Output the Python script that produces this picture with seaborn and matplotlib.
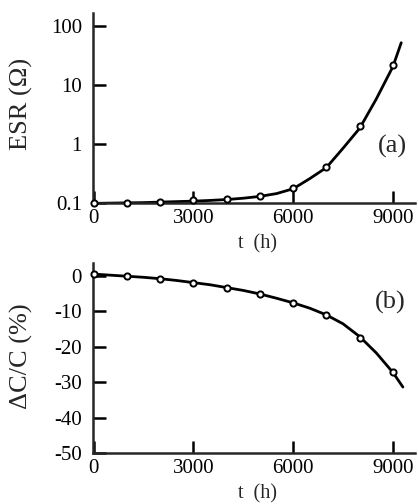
import matplotlib
matplotlib.use("Agg")
import matplotlib.pyplot as plt
import seaborn as sns
import pandas as pd

# ---- data ----
t_points = [0, 1000, 2000, 3000, 4000, 5000, 6000, 7000, 8000, 9000]
esr_points = [0.100, 0.100, 0.104, 0.113, 0.116, 0.130, 0.180, 0.41, 2.0, 21.4]
dcc_points = [0.3, -0.2, -0.86, -2.0, -3.4, -5.2, -7.7, -11.0, -17.5, -27.2]

# fitted curves as drawn in the reference
t_curve = [0, 500, 1000, 1500, 2000, 2500, 3000, 3500, 4000, 4500, 5000,
           5500, 6000, 6500, 7000, 7500, 8000, 8500, 9000, 9250]
esr_curve = [0.099, 0.100, 0.101, 0.102, 0.104, 0.106, 0.108, 0.111, 0.115,
             0.121, 0.130, 0.145, 0.175, 0.26, 0.40, 0.85, 1.85, 5.8, 20.5, 52.0]
t_curve_b = [0, 500, 1000, 1500, 2000, 2500, 3000, 3500, 4000, 4500, 5000,
             5500, 6000, 6500, 7000, 7500, 8000, 8500, 9000, 9300]
dcc_curve = [0.4, 0.1, -0.2, -0.5, -0.9, -1.4, -2.0, -2.6, -3.4, -4.2, -5.2,
             -6.4, -7.7, -9.2, -11.1, -13.6, -17.2, -21.8, -27.3, -31.4]

x_ticks = [0, 3000, 6000, 9000]
x_tick_labels = ["0", "3000", "6000", "9000"]
esr_ticks = [0.1, 1, 10, 100]
esr_tick_labels = ["0.1", "1", "10", "100"]
dcc_ticks = [0, -10, -20, -30, -40, -50]
dcc_tick_labels = ["0", "-10", "-20", "-30", "-40", "-50"]

sns.set_theme(style="ticks")
plt.rcParams['font.family'] = ['Liberation Serif', 'DejaVu Serif']
plt.rcParams['axes.linewidth'] = 1.8

fig = plt.figure(figsize=(4.18, 5.04), dpi=100)
ax1 = fig.add_axes([0.2225, 0.597, 0.77, 0.377])
ax2 = fig.add_axes([0.2225, 0.101, 0.77, 0.377])

df_pa = pd.DataFrame({"t": t_points, "v": esr_points})
df_ca = pd.DataFrame({"t": t_curve, "v": esr_curve})
df_pb = pd.DataFrame({"t": t_points, "v": dcc_points})
df_cb = pd.DataFrame({"t": t_curve_b, "v": dcc_curve})

for ax, dfc, dfp, ly in [(ax1, df_ca, df_pa, -0.165), (ax2, df_cb, df_pb, -0.163)]:
    sns.lineplot(data=dfc, x="t", y="v", ax=ax, color="black", lw=2.0,
                 estimator=None, sort=False, zorder=2)
    sns.scatterplot(data=dfp, x="t", y="v", ax=ax, marker="o", s=20,
                    facecolor="white", edgecolor="black", linewidth=1.4,
                    zorder=3, clip_on=False)
    sns.despine(ax=ax)
    ax.set_xlim(-20, 9660)
    ax.set_xticks(x_ticks)
    ax.set_xticklabels(x_tick_labels)
    ax.tick_params(axis="both", direction="in", length=9, width=1.8,
                   labelsize=15, colors="black")
    ax.tick_params(axis="x", pad=4)
    ax.tick_params(axis="y", pad=8)
    ax.set_xlabel("t  (h)", fontsize=14.5)
    ax.xaxis.set_label_coords(0.51, ly)

ax1.set_yscale("log")
ax1.set_ylim(0.1, 165)
ax1.set_yticks(esr_ticks)
ax1.set_yticklabels(esr_tick_labels)
ax1.minorticks_off()
ax1.set_ylabel("ESR (\u03a9)", fontsize=19)
ax1.yaxis.set_label_coords(-0.186, 0.52)
ax1.text(0.975, 0.30, "(a)", transform=ax1.transAxes, fontsize=19,
         ha="right", va="center")

ax2.set_ylim(-50, 3.5)
ax2.set_yticks(dcc_ticks)
ax2.set_yticklabels(dcc_tick_labels)
ax2.set_ylabel("\u0394C/C (%)", fontsize=19)
ax2.yaxis.set_label_coords(-0.186, 0.51)
ax2.text(0.97, 0.795, "(b)", transform=ax2.transAxes, fontsize=19,
         ha="right", va="center")

fig.savefig("out.png", dpi=100)
